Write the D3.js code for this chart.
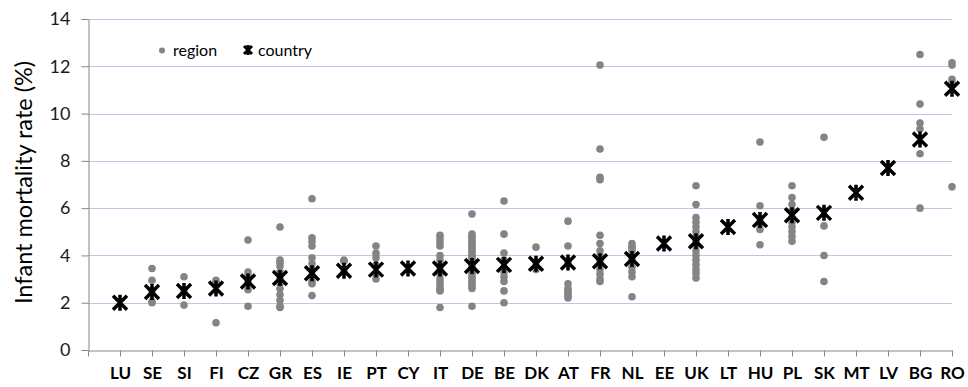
<!DOCTYPE html>
<html>
<head>
<meta charset="utf-8">
<script src="https://cdn.jsdelivr.net/npm/d3@7"></script>
<style>
  body { margin: 0; background: #fff; }
  text { font-family: Lato, "Open Sans", sans-serif; }
</style>
</head>
<body>
<div id="chart"></div>
<script>
// countries in plotted order
const countries = ["LU","SE","SI","FI","CZ","GR","ES","IE","PT","CY","IT","DE","BE","DK","AT","FR","NL","EE","UK","LT","HU","PL","SK","MT","LV","BG","RO"];

// national rate (star marker)
const countryRates = [2.0, 2.45, 2.5, 2.6, 2.9, 3.05, 3.25, 3.35, 3.4, 3.45, 3.45, 3.55, 3.6, 3.65, 3.7, 3.75, 3.85, 4.5, 4.6, 5.2, 5.5, 5.7, 5.8, 6.65, 7.7, 8.9, 11.05];

// regional rates (grey dots), same order as countries
const regionRates = [
  [],
  [3.45, 2.95, 2.5, 2.05, 2.0],
  [3.1, 2.5, 1.9],
  [2.95, 2.85, 1.15],
  [4.65, 3.3, 3.15, 2.9, 2.55, 1.85],
  [5.2, 3.8, 3.7, 3.55, 3.3, 3.0, 2.8, 2.6, 2.35, 2.1, 1.85, 1.8],
  [6.4, 4.75, 4.6, 4.4, 3.9, 3.65, 3.4, 3.15, 2.9, 2.8, 2.3],
  [3.8, 3.75, 3.3],
  [4.4, 4.1, 3.9, 3.6, 3.2, 3.0],
  [],
  [4.85, 4.7, 4.55, 4.4, 4.0, 3.8, 3.6, 3.4, 3.2, 3.0, 2.85, 2.7, 2.55, 2.5, 1.8],
  [5.75, 4.9, 4.8, 4.7, 4.6, 4.5, 4.4, 4.3, 4.2, 4.1, 4.0, 3.9, 3.8, 3.7, 3.6, 3.5, 3.4, 3.3, 3.2, 3.1, 3.0, 2.9, 2.8, 2.7, 2.6, 1.85],
  [6.3, 4.9, 4.1, 3.8, 3.5, 3.3, 3.1, 2.9, 2.5, 2.0],
  [4.35, 3.7, 3.4],
  [5.45, 4.4, 3.7, 2.8, 2.6, 2.5, 2.4, 2.3, 2.2],
  [12.05, 8.5, 7.3, 7.2, 4.85, 4.5, 4.2, 4.0, 3.8, 3.6, 3.4, 3.2, 3.0, 2.9],
  [4.5, 4.4, 4.3, 4.2, 4.0, 3.85, 3.5, 3.3, 3.1, 2.25],
  [],
  [6.95, 6.15, 5.6, 5.4, 5.2, 5.0, 4.8, 4.6, 4.4, 4.2, 4.0, 3.8, 3.6, 3.4, 3.25, 3.05],
  [],
  [8.8, 6.1, 5.5, 5.3, 5.1, 4.45],
  [6.95, 6.45, 6.15, 5.9, 5.6, 5.4, 5.2, 5.0, 4.8, 4.6],
  [9.0, 5.9, 5.25, 4.0, 2.9],
  [],
  [],
  [12.5, 10.4, 9.6, 9.35, 8.3, 6.0],
  [12.15, 12.05, 11.45, 11.3, 6.9]
];

const yTicks = [0, 2, 4, 6, 8, 10, 12, 14];

const W = 968, H = 387;
const plotLeft = 88, plotRight = 952, plotTop = 19, plotBottom = 350;

const svg = d3.select("#chart").append("svg")
  .attr("width", W)
  .attr("height", H);

// blank slot at the axis so the first country sits one step in
const x = d3.scalePoint()
  .domain([""].concat(countries))
  .range([plotLeft, plotRight]);

const y = d3.scaleLinear()
  .domain([0, 14])
  .range([plotBottom, plotTop]);

// gridlines
svg.append("g")
  .selectAll("line")
  .data(yTicks.filter(d => d > 0))
  .enter().append("line")
  .attr("x1", plotLeft)
  .attr("x2", plotRight)
  .attr("y1", d => Math.round(y(d)) + 0.5)
  .attr("y2", d => Math.round(y(d)) + 0.5)
  .attr("stroke", "#b7cbe6")
  .attr("stroke-width", 1);

// y axis
const yAxis = svg.append("g")
  .attr("transform", `translate(${plotLeft + 0.5},0)`)
  .call(d3.axisLeft(y).tickValues(yTicks).tickSize(7).tickPadding(11).tickSizeOuter(0));
yAxis.select(".domain").attr("stroke", "#868686");
yAxis.selectAll(".tick line").attr("stroke", "#868686");
yAxis.selectAll(".tick text")
  .attr("fill", "#1a1a1a")
  .style("font-size", "18px")
  .style("font-family", "Lato, sans-serif");

// x axis
const xAxis = svg.append("g")
  .attr("transform", `translate(0,${plotBottom + 0.5})`)
  .call(d3.axisBottom(x).tickSize(6).tickPadding(10).tickSizeOuter(0));
xAxis.select(".domain").attr("stroke", "#868686");
xAxis.selectAll(".tick line").attr("stroke", "#868686");
xAxis.selectAll(".tick text")
  .attr("fill", "#000")
  .style("font-size", "17px")
  .style("font-weight", "bold")
  .style("font-family", "Lato, sans-serif");

// y title
svg.append("text")
  .attr("transform", `translate(32,${(plotTop + plotBottom) / 2 - 2}) rotate(-90)`)
  .attr("text-anchor", "middle")
  .style("font-size", "23.5px")
  .attr("fill", "#000")
  .text("Infant mortality rate (%)");

// region dots
const dots = [];
regionRates.forEach((vals, i) => {
  vals.forEach(v => dots.push({ c: countries[i], v: v }));
});
svg.append("g")
  .selectAll("circle")
  .data(dots)
  .enter().append("circle")
  .attr("cx", d => x(d.c))
  .attr("cy", d => y(d.v))
  .attr("r", 3.8)
  .attr("fill", "#848484");

// star marker path
function star(s) {
  return `M${-s},${-s}L${s},${s}M${-s},${s}L${s},${-s}M0,${-s - 1}L0,${s + 1}`;
}

svg.append("g")
  .selectAll("path")
  .data(countries)
  .enter().append("path")
  .attr("transform", (d, i) => `translate(${x(d)},${y(countryRates[i])})`)
  .attr("d", star(7))
  .attr("fill", "none")
  .attr("stroke", "#000")
  .attr("stroke-width", 3.5);

// legend
const lg = svg.append("g");
lg.append("circle")
  .attr("cx", 162).attr("cy", 50.5).attr("r", 3)
  .attr("fill", "#848484");
lg.append("text")
  .attr("x", 173).attr("y", 56)
  .style("font-size", "16px")
  .attr("fill", "#000")
  .text("region");
lg.append("path")
  .attr("transform", "translate(248,50)")
  .attr("d", star(4))
  .attr("fill", "none")
  .attr("stroke", "#000")
  .attr("stroke-width", 3);
lg.append("text")
  .attr("x", 258).attr("y", 56)
  .style("font-size", "16px")
  .attr("fill", "#000")
  .text("country");
</script>
</body>
</html>
